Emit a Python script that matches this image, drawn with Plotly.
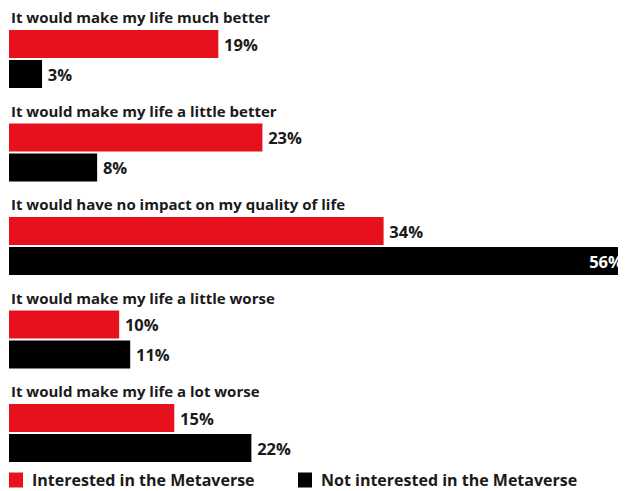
import plotly.graph_objects as go

categories = [
    "It would make my life much better",
    "It would make my life a little better",
    "It would have no impact on my quality of life",
    "It would make my life a little worse",
    "It would make my life a lot worse",
]
interested = [19, 23, 34, 10, 15]
not_interested = [3, 8, 56, 11, 22]
series_names = ["Interested in the Metaverse", "Not interested in the Metaverse"]

RED = "#E6111D"
BLACK = "#000000"
TXT = "#1a1a1a"
FONT = "Open Sans"
FS = 15
LABEL_FS = 16.5

# figure is offset by the page's 8px body margin
W, H = 618, 483
ML = 1
PLOT_W = W - ML
first_center = 36
group_step = 93.5
pair_step = 30
bar_h = 28
title_off = 27

red_y = [first_center + i * group_step for i in range(len(categories))]
blk_y = [y + pair_step for y in red_y]
title_y = [y - title_off for y in red_y]

xmax = max(not_interested + interested)


def pos(vals):
    return ["inside" if v == xmax else "outside" for v in vals]


def tcol(vals):
    return ["#ffffff" if v == xmax else TXT for v in vals]


def labels(vals):
    return [f"{v}%" if v == xmax else f"\u2009{v}%" for v in vals]


def px(xpix):
    return (xpix - ML) / PLOT_W


fig = go.Figure()
for name, vals, ys, col in [
    (series_names[0], interested, red_y, RED),
    (series_names[1], not_interested, blk_y, BLACK),
]:
    fig.add_trace(go.Bar(
        name=name, x=vals, y=ys, orientation="h", width=bar_h,
        marker=dict(color=col, line=dict(width=0)),
        text=labels(vals), textposition=pos(vals),
        insidetextanchor="end",
        textfont=dict(family=FONT, size=LABEL_FS, color=tcol(vals), weight="bold"),
        constraintext="none",
        cliponaxis=False,
        showlegend=False,
    ))

for cat, ty in zip(categories, title_y):
    fig.add_annotation(text=cat, x=0, xref="paper", y=ty, yref="y",
                       xanchor="left", yanchor="middle", showarrow=False,
                       font=dict(family=FONT, size=FS, color=TXT, weight="bold"))

# legend (drawn as swatch + label)
legend_y = 472
legend_items = [(series_names[0], RED, 1), (series_names[1], BLACK, 290)]
for name, col, lx in legend_items:
    fig.add_shape(type="rect", xref="paper", yref="y",
                  x0=px(lx), x1=px(lx + 14), y0=legend_y - 7.5, y1=legend_y + 7.5,
                  fillcolor=col, line=dict(width=0))
    fig.add_annotation(text=name, x=px(lx + 21), xref="paper", y=legend_y, yref="y",
                       xanchor="left", yanchor="middle", showarrow=False,
                       font=dict(family=FONT, size=16, color=TXT, weight="bold"))

fig.update_layout(
    width=W, height=H,
    margin=dict(l=ML, r=0, t=0, b=0, autoexpand=False),
    paper_bgcolor="white", plot_bgcolor="white",
    barmode="overlay",
    showlegend=False,
    xaxis=dict(range=[0, xmax], visible=False, fixedrange=True),
    yaxis=dict(range=[H, 0], visible=False, fixedrange=True),
)

fig.write_html("out.html")
